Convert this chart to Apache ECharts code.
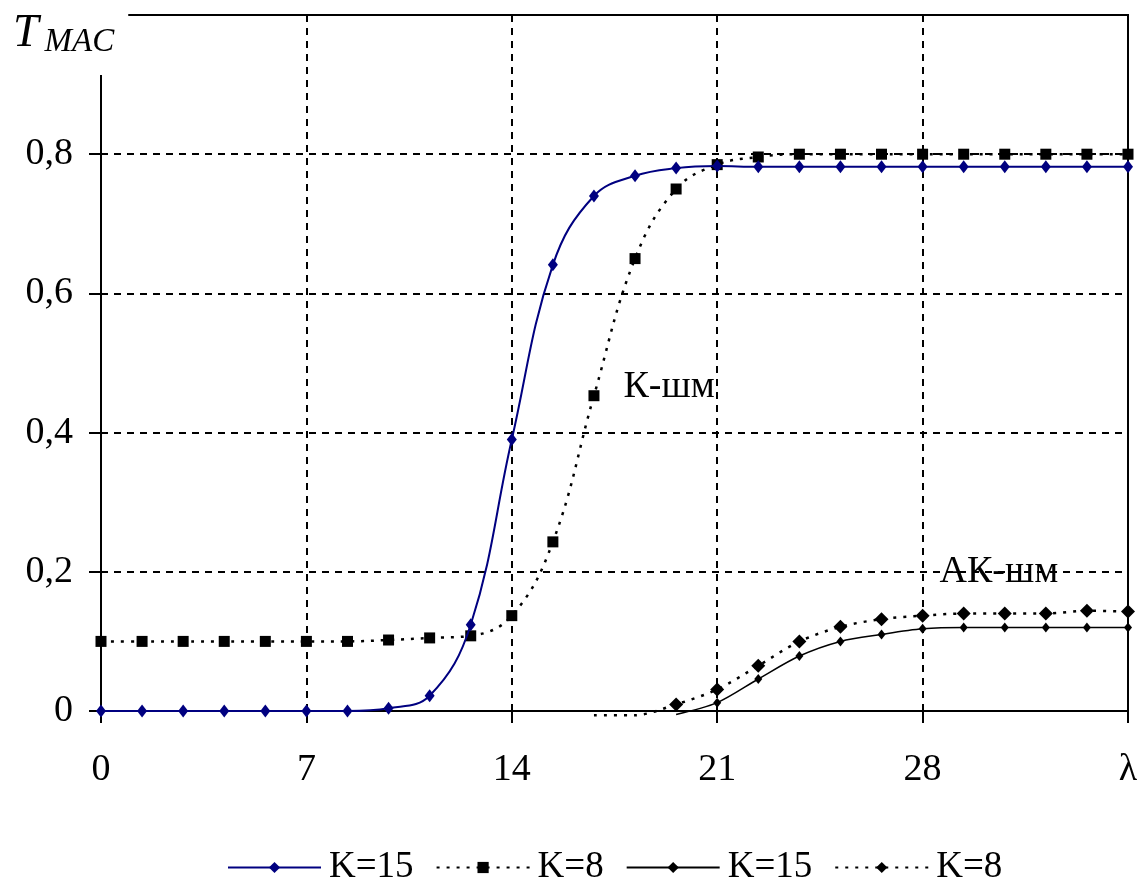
<!DOCTYPE html>
<html>
<head>
<meta charset="utf-8">
<title>T MAC</title>
<script src="https://cdn.jsdelivr.net/npm/echarts@6/dist/echarts.min.js"></script>
<style>
  html, body { margin: 0; padding: 0; background: #fff; }
  #chart { width: 1141px; height: 880px; }
</style>
</head>
<body>
<div id="chart"></div>
<script>
  // lambda values (x axis)
  var xs = [0, 1.4, 2.8, 4.2, 5.6, 7, 8.4, 9.8, 11.2, 12.6, 14, 15.4, 16.8, 18.2, 19.6, 21,
            22.4, 23.8, 25.2, 26.6, 28, 29.4, 30.8, 32.2, 33.6, 35];

  // К-шм, K=15 / K=8
  var kK15 = [0, 0, 0, 0, 0, 0, 0, 0.004, 0.022, 0.124, 0.39, 0.641, 0.74, 0.769, 0.78, 0.783,
              0.782, 0.782, 0.782, 0.782, 0.782, 0.782, 0.782, 0.782, 0.782, 0.782];
  var kK8 = [0.1, 0.1, 0.1, 0.1, 0.1, 0.1, 0.1, 0.102, 0.105, 0.108, 0.137, 0.243, 0.453, 0.65, 0.75, 0.785,
             0.796, 0.8, 0.8, 0.8, 0.8, 0.8, 0.8, 0.8, 0.8, 0.8];

  // АК-шм, K=15 / K=8
  var akK15 = [null, null, null, null, null, null, null, null, null, null, null, null, null, null,
               -0.005, 0.012, 0.046, 0.079, 0.1, 0.11, 0.118, 0.12, 0.12, 0.12, 0.12, 0.12];
  var akK8 = [null, null, null, null, null, null, null, null, null, null, null, null,
              -0.006, -0.006, 0.0095, 0.031, 0.065, 0.1, 0.121, 0.132, 0.137, 0.14, 0.14, 0.14, 0.144, 0.143];

  var seriesNames = ['К-шм|K=15', 'К-шм|K=8', 'АК-шм|K=15', 'АК-шм|K=8'];

  var xTicks = [0, 7, 14, 21, 28, 35];
  var yTicks = [0, 0.2, 0.4, 0.6, 0.8, 1];

  // curve labels, in data coordinates
  var notes = [
    { text: 'К-шм', x: 19.36, y: 0.465 },
    { text: 'АК-шм', x: 30.6, y: 0.199 }
  ];

  var FONT = 'Liberation Serif';

  function pairs(vals) {
    var out = [];
    for (var i = 0; i < xs.length; i++) {
      if (vals[i] === null) continue;
      if (vals[i] < 0) {
        // dips below the axis: line only, no marker
        out.push({ value: [xs[i], vals[i]], symbol: 'none' });
      } else {
        out.push([xs[i], vals[i]]);
      }
    }
    return out;
  }

  var chart = echarts.init(document.getElementById('chart'));

  var option = {
    backgroundColor: '#fff',
    animation: false,
    textStyle: { fontFamily: FONT, color: '#000' },
    grid: {
      left: 101, right: 13, top: 15, bottom: 169,
      show: true, borderColor: '#000', borderWidth: 2
    },
    legend: {
      bottom: -11,
      left: 222,
      itemWidth: 93,
      itemHeight: 14,
      itemGap: 22,
      textStyle: { fontFamily: FONT, fontSize: 37, color: '#000', padding: [0, 0, 0, 3] },
      formatter: function (name) { return name.split('|')[1]; },
      data: seriesNames
    },
    xAxis: {
      type: 'value',
      min: xTicks[0],
      max: xTicks[xTicks.length - 1],
      interval: 7,
      axisLine: { lineStyle: { color: '#000', width: 2 } },
      axisTick: { show: true, length: 12, lineStyle: { color: '#000', width: 2 } },
      axisLabel: {
        fontFamily: FONT, fontSize: 38, color: '#000', margin: 40,
        formatter: function (v) { return v === 35 ? 'λ' : String(v); }
      },
      splitLine: { show: true, lineStyle: { color: '#000', width: 2, type: [7, 6] } }
    },
    yAxis: {
      type: 'value',
      min: yTicks[0],
      max: yTicks[yTicks.length - 1],
      interval: 0.2,
      axisLine: { show: true, lineStyle: { color: '#000', width: 2 } },
      axisTick: { show: true, length: 12, lineStyle: { color: '#000', width: 2 } },
      axisLabel: {
        fontFamily: FONT, fontSize: 38, color: '#000', margin: 28,
        formatter: function (v) {
          if (v >= 1) return '';
          return String(Math.round(v * 10) / 10).replace('.', ',');
        }
      },
      splitLine: { show: true, lineStyle: { color: '#000', width: 2, type: [7, 6] } }
    },
    series: [
      {
        name: seriesNames[0], type: 'line', data: pairs(kK15),
        smooth: 0.4, color: '#000080',
        symbol: 'diamond', symbolSize: [10, 13],
        lineStyle: { color: '#000080', width: 2 },
        itemStyle: { color: '#000080' }, z: 5
      },
      {
        name: seriesNames[1], type: 'line', data: pairs(kK8),
        smooth: 0.4, color: '#000',
        symbol: 'rect', symbolSize: 11,
        lineStyle: { color: '#000', width: 2.5, type: [3, 7] },
        itemStyle: { color: '#000' }, z: 4
      },
      {
        name: seriesNames[2], type: 'line', data: pairs(akK15),
        smooth: 0.3, color: '#000', clip: false,
        symbol: 'diamond', symbolSize: [8, 10],
        lineStyle: { color: '#000', width: 1.5 },
        itemStyle: { color: '#000' }, z: 4
      },
      {
        name: seriesNames[3], type: 'line', data: pairs(akK8),
        smooth: 0.3, color: '#000', clip: false,
        symbol: 'diamond', symbolSize: 14,
        lineStyle: { color: '#000', width: 2.5, type: [3, 7] },
        itemStyle: { color: '#000' }, z: 4
      }
    ]
  };

  chart.setOption(option);

  // axis title and curve labels
  var graphics = [
    {
      type: 'text', left: 8, top: 2, z: 100,
      style: {
        text: '{t|T}{s|MAC}',
        backgroundColor: '#fff',
        padding: [6, 14, 16, 5],
        rich: {
          t: { fontFamily: FONT, fontStyle: 'italic', fontSize: 46, fill: '#000', lineHeight: 46 },
          s: { fontFamily: FONT, fontStyle: 'italic', fontSize: 33, fill: '#000', padding: [18, 0, 0, 6] }
        }
      }
    }
  ];
  notes.forEach(function (n) {
    var p = chart.convertToPixel({ gridIndex: 0 }, [n.x, n.y]);
    graphics.push({
      type: 'text', x: p[0], y: p[1], z: 50,
      style: {
        text: n.text, fontFamily: FONT, fontSize: 38, fill: '#000',
        align: 'center', verticalAlign: 'middle'
      }
    });
  });
  chart.setOption({ graphic: graphics });
</script>
</body>
</html>
